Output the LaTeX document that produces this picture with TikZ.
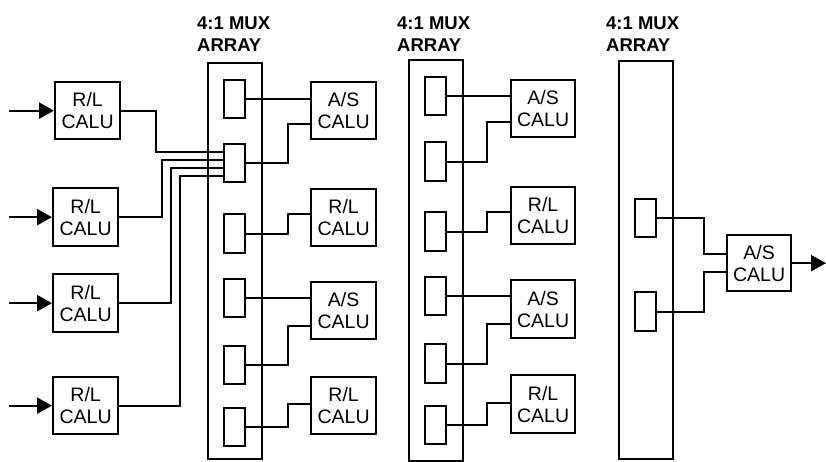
\documentclass[tikz,border=0pt]{standalone}
\usepackage{fontspec}
\setmainfont{Liberation Sans}
\usetikzlibrary{arrows.meta,calc}
\begin{document}
\begin{tikzpicture}[x=1pt,y=-1pt,
  wire/.style={line width=2.3pt},
  calu/.style={draw,line width=2.3pt,minimum width=65pt,minimum height=57pt,inner sep=0pt,anchor=north west,align=center,font=\fontsize{19.5}{22}\selectfont},
  muxbox/.style={draw,line width=2.3pt,minimum width=21pt,minimum height=38pt,inner sep=0pt,anchor=north west},
  arraybox/.style={draw,line width=2.3pt,minimum width=54pt,inner sep=0pt,anchor=north west},
  hdr/.style={anchor=base west,inner sep=0pt,font=\fontsize{18.5}{22}\selectfont\bfseries},
  inarrow/.style={line width=2.3pt,-{Triangle[length=15pt,width=16pt]}}
]
\useasboundingbox (0,0) rectangle (826,461);

% headers
\node[hdr] (h1a) at (197,29) {4:1 MUX};
\node[hdr] (h1b) at (197,51) {ARRAY};
\node[hdr] (h2a) at (397,29) {4:1 MUX};
\node[hdr] (h2b) at (397,51) {ARRAY};
\node[hdr] (h3a) at (606,29) {4:1 MUX};
\node[hdr] (h3b) at (606,51) {ARRAY};

% left R/L CALUs
\node[calu] (L1) at (54,81) {R/L\\CALU};
\node[calu,minimum height=58pt] (L2) at (52,187) {R/L\\CALU};
\node[calu,minimum height=58pt] (L3) at (52,273) {R/L\\CALU};
\node[calu] (L4) at (52,376) {R/L\\CALU};
\coordinate (ix) at (9,0);
\draw[inarrow] (ix |- L1.west) -- (L1.west);
\draw[inarrow] (ix |- L2.west) -- (L2.west);
\draw[inarrow] (ix |- L3.west) -- (L3.west);
\draw[inarrow] (ix |- L4.west) -- (L4.west);

% column 1
\node[arraybox,minimum height=396pt] (ar1) at (207,62) {};
\node[muxbox] (p1) at (223,79) {};
\node[muxbox] (p2) at (223,143) {};
\node[muxbox,minimum height=39pt] (p3) at (223,213) {};
\node[muxbox] (p4) at (223,278) {};
\node[muxbox] (p5) at (223,345) {};
\node[muxbox] (p6) at (223,407) {};
\node[calu] (pa1) at (310,81) {A/S\\CALU};
\node[calu] (pr1) at (310,188) {R/L\\CALU};
\node[calu] (pa2) at (310,281) {A/S\\CALU};
\node[calu] (pr2) at (310,376) {R/L\\CALU};

\coordinate (v1) at (156,152);
\coordinate (v2) at (162,160);
\coordinate (v3) at (171,168);
\coordinate (v4) at (180,176);
\draw[wire] (L1.east) -| (v1) -- (v1 -| p2.west);
\draw[wire] (L2.east) -| (v2) -- (v2 -| p2.west);
\draw[wire] (L3.east) -| (v3) -- (v3 -| p2.west);
\draw[wire] (L4.east) -| (v4) -- (v4 -| p2.west);

\coordinate (jx1) at (288,0);
\coordinate (pa1i) at ($(pa1.north west)+(0,43)$);
\coordinate (pr1i) at ($(pr1.north west)+(0,26)$);
\coordinate (pa2i) at ($(pa2.north west)+(0,45)$);
\coordinate (pr2i) at ($(pr2.north west)+(0,28)$);
\draw[wire] (p1.east) -- (p1.east -| pa1.west);
\draw[wire] (p2.east) -| (jx1 |- pa1i) -- (pa1i);
\draw[wire] (p3.east) -| (jx1 |- pr1i) -- (pr1i);
\draw[wire] (p4.east) -- (p4.east -| pa2.west);
\draw[wire] (p5.east) -| (jx1 |- pa2i) -- (pa2i);
\draw[wire] (p6.east) -| (jx1 |- pr2i) -- (pr2i);

% column 2
\node[arraybox,minimum height=401pt] (ar2) at (408,59) {};
\node[muxbox] (q1) at (424,76) {};
\node[muxbox,minimum height=39pt] (q2) at (424,141) {};
\node[muxbox,minimum height=39pt] (q3) at (424,211) {};
\node[muxbox] (q4) at (424,276) {};
\node[muxbox,minimum height=39pt] (q5) at (424,343) {};
\node[muxbox] (q6) at (424,405) {};
\node[calu,minimum width=64pt] (qa1) at (510,79) {A/S\\CALU};
\node[calu,minimum width=64pt] (qr1) at (510,186) {R/L\\CALU};
\node[calu,minimum width=64pt,minimum height=58pt] (qa2) at (510,279) {A/S\\CALU};
\node[calu,minimum width=64pt,minimum height=58pt] (qr2) at (510,374) {R/L\\CALU};

\coordinate (jx2) at (487,0);
\coordinate (qa1i) at ($(qa1.north west)+(0,43)$);
\coordinate (qr1i) at ($(qr1.north west)+(0,26)$);
\coordinate (qa2i) at ($(qa2.north west)+(0,45)$);
\coordinate (qr2i) at ($(qr2.north west)+(0,29)$);
\draw[wire] (q1.east) -- (q1.east -| qa1.west);
\draw[wire] (q2.east) -| (jx2 |- qa1i) -- (qa1i);
\draw[wire] (q3.east) -| (jx2 |- qr1i) -- (qr1i);
\draw[wire] (q4.east) -- (q4.east -| qa2.west);
\draw[wire] (q5.east) -| (jx2 |- qa2i) -- (qa2i);
\draw[wire] (q6.east) -| (jx2 |- qr2i) -- (qr2i);

% column 3
\node[arraybox,minimum height=398pt] (ar3) at (618,60) {};
\node[muxbox] (s1) at (634,198) {};
\node[muxbox,minimum height=39pt] (s2) at (634,291) {};
\node[calu,minimum width=64pt,minimum height=56pt] (sa) at (726,234) {A/S\\CALU};
\coordinate (jx3) at (704,0);
\coordinate (sai1) at ($(sa.north west)+(0,20)$);
\coordinate (sai2) at ($(sa.north west)+(0,38)$);
\draw[wire] (s1.east) -| (jx3 |- sai1) -- (sai1);
\draw[wire] (s2.east) -| (jx3 |- sai2) -- (sai2);
\coordinate (ox) at (826,0);
\draw[inarrow] (sa.east) -- (sa.east -| ox);
\end{tikzpicture}
\end{document}
